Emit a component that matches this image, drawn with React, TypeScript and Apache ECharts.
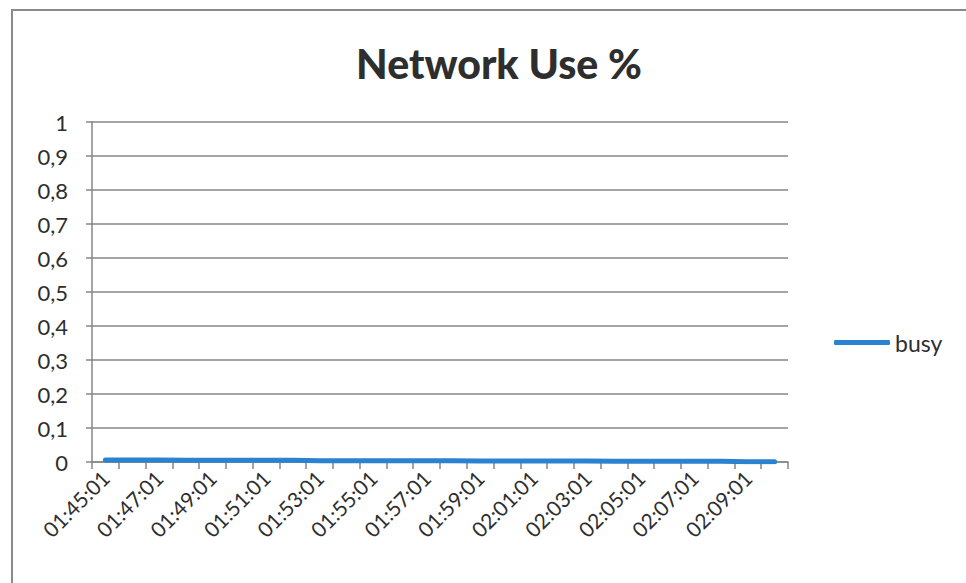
import React, { useEffect, useRef } from "react";
import * as echarts from "echarts";

const categories: string[] = [
  "01:45:01", "01:46:01", "01:47:01", "01:48:01", "01:49:01", "01:50:01",
  "01:51:01", "01:52:01", "01:53:01", "01:54:01", "01:55:01", "01:56:01",
  "01:57:01", "01:58:01", "01:59:01", "02:00:01", "02:01:01", "02:02:01",
  "02:03:01", "02:04:01", "02:05:01", "02:06:01", "02:07:01", "02:08:01",
  "02:09:01", "02:10:01",
];

const busy: number[] = [
  0.006, 0.006, 0.006, 0.005, 0.005, 0.005, 0.005, 0.005, 0.004, 0.004,
  0.004, 0.004, 0.004, 0.004, 0.003, 0.003, 0.003, 0.003, 0.003, 0.002,
  0.002, 0.002, 0.002, 0.002, 0.001, 0.001,
];

const seriesName = "busy";
const titleText = "Network Use %";

export default function App() {
  const ref = useRef<HTMLDivElement>(null);
  useEffect(() => {
    if (!ref.current) return;
    const chart = echarts.init(ref.current, null, { renderer: "svg" });
    const font = "Lato, 'Open Sans', sans-serif";
    chart.setOption({
      animation: false,
      backgroundColor: "#ffffff",
      textStyle: { fontFamily: font },
      title: {
        text: titleText,
        left: 494,
        textAlign: "center",
        top: 38,
        textStyle: { fontFamily: font, fontWeight: 900, fontSize: 41, color: "#2e2e2e" },
      },
      legend: {
        left: 829,
        top: 326,
        data: [{ name: seriesName, icon: "roundRect" }],
        itemWidth: 56,
        itemHeight: 5,
        itemGap: 3,
        textStyle: { fontFamily: font, fontSize: 23, color: "#2e2e2e" },
      },
      graphic: [
        {
          type: "rect",
          shape: { x: 12, y: 10, width: 1000, height: 700 },
          style: { fill: "none", stroke: "#8a8a8a", lineWidth: 2 },
          silent: true,
        },
      ],
      grid: { left: 92, right: 178, top: 122, bottom: 121, containLabel: false },
      xAxis: {
        type: "category",
        data: categories,
        boundaryGap: true,
        axisLine: { lineStyle: { color: "#868686", width: 1.5 } },
        axisTick: { show: true, interval: 0, length: 7, lineStyle: { color: "#868686", width: 1.5 } },
        axisLabel: {
          interval: 1,
          rotate: 45,
          margin: 12,
          fontSize: 21,
          color: "#2e2e2e",
          fontFamily: font,
        },
        splitLine: { show: false },
      },
      yAxis: {
        type: "value",
        min: 0,
        max: 1,
        interval: 0.1,
        axisLine: { show: true, lineStyle: { color: "#868686", width: 1.5 } },
        axisTick: { show: true, length: 6, lineStyle: { color: "#868686", width: 1.5 } },
        axisLabel: {
          fontSize: 22,
          color: "#2e2e2e",
          margin: 24,
          fontFamily: font,
          formatter: (v: number) => String(Math.round(v * 10) / 10).replace(".", ","),
        },
        splitLine: { show: true, lineStyle: { color: "#868686", width: 1.5 } },
      },
      series: [
        {
          name: seriesName,
          type: "line",
          data: busy,
          showSymbol: false,
          symbol: "none",
          lineStyle: { color: "#2b82d0", width: 5, cap: "round" },
          itemStyle: { color: "#2b82d0" },
        },
      ],
    });
    return () => chart.dispose();
  }, []);
  return (
    <div
      ref={ref}
      style={{ position: "fixed", left: 0, top: 0, width: 966, height: 583 }}
    />
  );
}
